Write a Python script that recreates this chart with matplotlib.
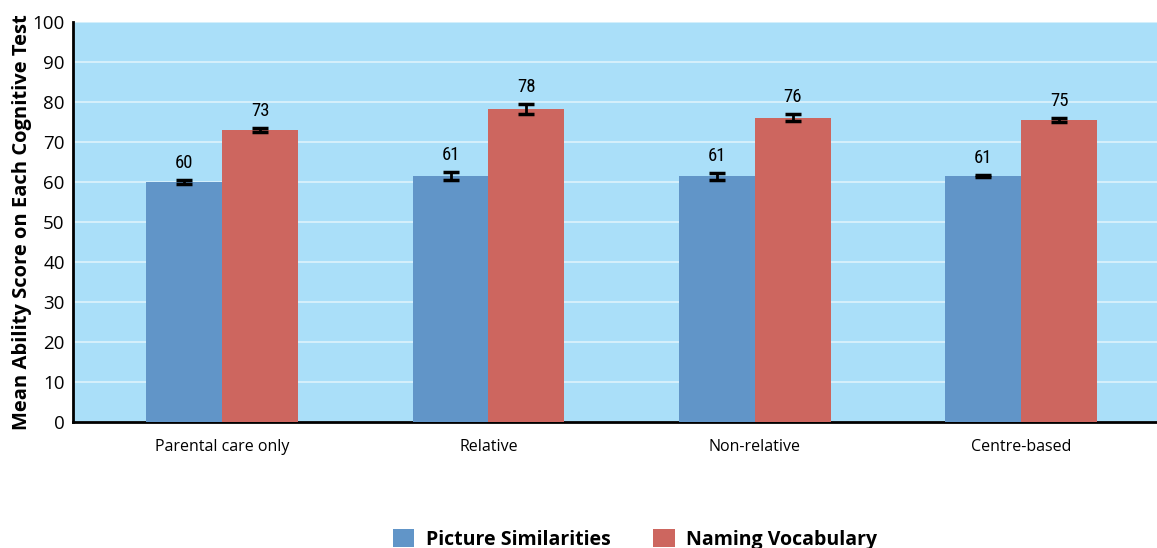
import matplotlib.pyplot as plt
import numpy as np

categories = ['Parental care only', 'Relative', 'Non-relative', 'Centre-based']
picture_sim = [60.0, 61.5, 61.4, 61.5]
naming_vocab = [73.0, 78.2, 76.1, 75.5]
picture_err = [0.5, 0.9, 0.8, 0.3]
naming_err = [0.4, 1.2, 0.9, 0.6]
picture_lbl = ['60', '61', '61', '61']
naming_lbl = ['73', '78', '76', '75']

plt.rcParams['font.family'] = ['Open Sans', 'DejaVu Sans']
narrow = ['Liberation Sans Narrow', 'Roboto Condensed', 'DejaVu Sans']

fig = plt.figure(figsize=(11.57, 5.48), dpi=100)
ax = fig.add_axes([0.0631, 0.23, 0.9369, 0.73])
ax.set_facecolor('#aadff9')

x = np.arange(len(categories))
w = 0.285
blue = '#6195c8'
red = '#cd665f'

ax.bar(x - w / 2, picture_sim, w, color=blue, label='Picture Similarities', zorder=3)
ax.bar(x + w / 2, naming_vocab, w, color=red, label='Naming Vocabulary', zorder=3)
ax.errorbar(x - w / 2, picture_sim, yerr=picture_err, fmt='none', ecolor='black',
            elinewidth=2, capsize=6, capthick=2.5, zorder=4)
ax.errorbar(x + w / 2, naming_vocab, yerr=naming_err, fmt='none', ecolor='black',
            elinewidth=2, capsize=6, capthick=2.5, zorder=4)

for xi, v, e, t in zip(x - w / 2, picture_sim, picture_err, picture_lbl):
    ax.text(xi, v + e + 2.0, t, ha='center', va='bottom', fontsize=13.5,
            family=narrow, zorder=5)
for xi, v, e, t in zip(x + w / 2, naming_vocab, naming_err, naming_lbl):
    ax.text(xi, v + e + 2.0, t, ha='center', va='bottom', fontsize=13.5,
            family=narrow, zorder=5)

ax.set_ylim(0, 100)
ax.set_xlim(-0.56, 3.51)
ax.set_yticks(range(0, 101, 10))
ax.yaxis.grid(True, color='#d9f1fc', linewidth=1.3, zorder=0)
ax.set_axisbelow(True)
ax.set_xticks(x)
ax.set_xticklabels(categories, fontsize=11.5)
ax.tick_params(axis='x', length=0, pad=12)
ax.tick_params(axis='y', length=0, labelsize=13.5, pad=6)
for s in ['top', 'right']:
    ax.spines[s].set_visible(False)
ax.spines['left'].set_linewidth(2)
ax.spines['bottom'].set_linewidth(2)
ax.set_ylabel('Mean Ability Score on Each Cognitive Test', fontsize=14.5,
              fontweight='bold', labelpad=0)

fig.legend(loc='lower center', bbox_to_anchor=(0.549, -0.035), ncol=2, frameon=False,
           prop={'size': 14, 'weight': 'bold'}, handlelength=1.1, handleheight=1.1,
           columnspacing=2.2, handletextpad=0.6)

fig.savefig('out.png', dpi=100)
